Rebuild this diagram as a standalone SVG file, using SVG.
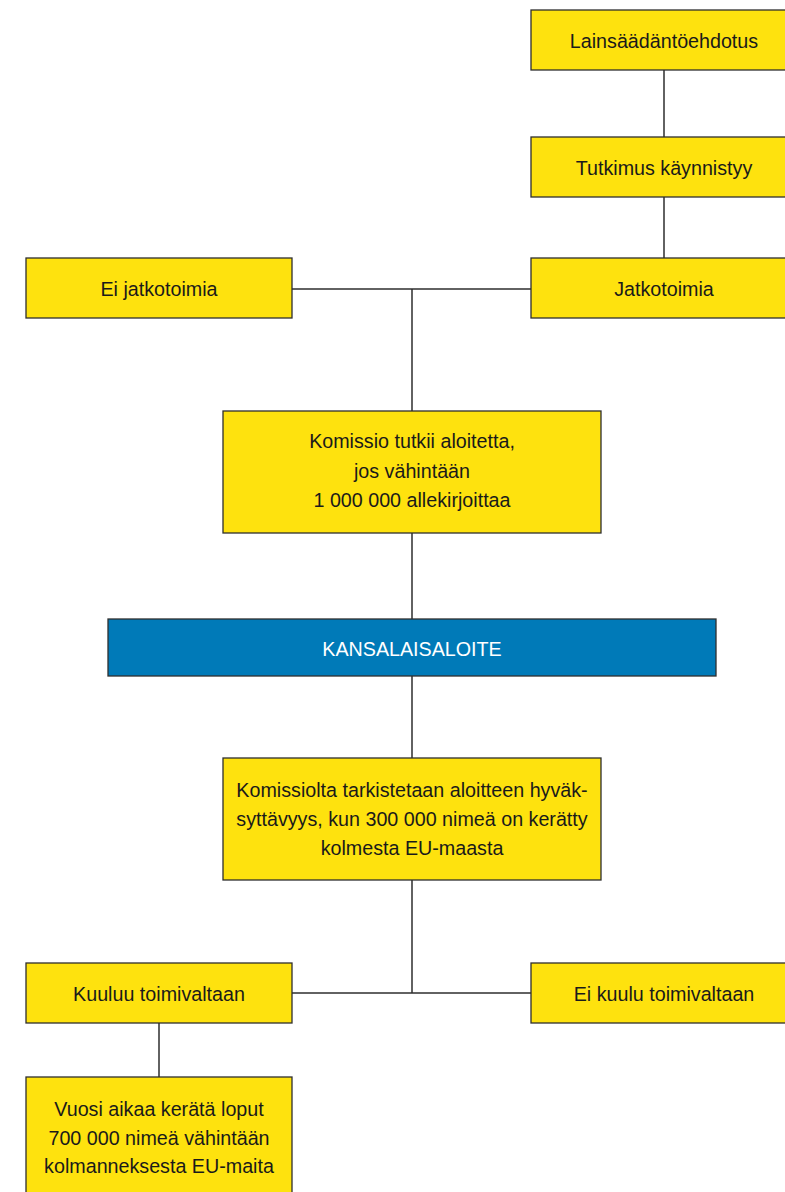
<svg xmlns="http://www.w3.org/2000/svg" width="785" height="1192" viewBox="0 0 785 1192">
<style>
.box{fill:#FEE20E;stroke:#2e2e2e;stroke-width:1.3}
.blue{fill:#007AB8;stroke:#2e2e2e;stroke-width:1.3}
.t{font-family:"Liberation Sans",Arial,sans-serif;font-size:19.7px;fill:#1a1a1a;text-anchor:middle}
.w{fill:#ffffff}
.c{stroke:#2e2e2e;stroke-width:1.5;fill:none}
</style>
<rect width="785" height="1192" fill="#ffffff"/>
<g id="connectors">
<path class="c" d="M664,70 V137"/>
<path class="c" d="M664,197 V258"/>
<path class="c" d="M292,289 H531"/>
<path class="c" d="M412,289 V411"/>
<path class="c" d="M412,533 V619"/>
<path class="c" d="M412,676 V758"/>
<path class="c" d="M412,880 V993"/>
<path class="c" d="M292,993 H531"/>
<path class="c" d="M159,1023 V1077"/>
</g>
<g id="n1"><rect class="box" x="531" y="10" width="266" height="60"/><text class="t" x="664" y="48">Lainsäädäntöehdotus</text></g>
<g id="n2"><rect class="box" x="531" y="137" width="266" height="60"/><text class="t" x="664" y="175">Tutkimus käynnistyy</text></g>
<g id="n3"><rect class="box" x="531" y="258" width="266" height="60"/><text class="t" x="664" y="296">Jatkotoimia</text></g>
<g id="n4"><rect class="box" x="26" y="258" width="266" height="60"/><text class="t" x="159" y="296">Ei jatkotoimia</text></g>
<g id="n5"><rect class="box" x="223" y="411" width="378" height="122"/><text class="t" x="412" y="448">Komissio tutkii aloitetta,</text><text class="t" x="412" y="478">jos vähintään</text><text class="t" x="412" y="507">1 000 000 allekirjoittaa</text></g>
<g id="n6"><rect class="blue" x="108" y="619" width="608" height="57"/><text class="t w" x="412" y="656">KANSALAISALOITE</text></g>
<g id="n7"><rect class="box" x="223" y="758" width="378" height="122"/><text class="t" x="412" y="797">Komissiolta tarkistetaan aloitteen hyväk-</text><text class="t" x="412" y="826">syttävyys, kun 300 000 nimeä on kerätty</text><text class="t" x="412" y="855">kolmesta EU-maasta</text></g>
<g id="n8"><rect class="box" x="26" y="963" width="266" height="60"/><text class="t" x="159" y="1001">Kuuluu toimivaltaan</text></g>
<g id="n9"><rect class="box" x="531" y="963" width="266" height="60"/><text class="t" x="664" y="1001">Ei kuulu toimivaltaan</text></g>
<g id="n10"><rect class="box" x="26" y="1077" width="266" height="130"/><text class="t" x="159" y="1116">Vuosi aikaa kerätä loput</text><text class="t" x="159" y="1145">700 000 nimeä vähintään</text><text class="t" x="159" y="1173">kolmanneksesta EU-maita</text></g>
</svg>
